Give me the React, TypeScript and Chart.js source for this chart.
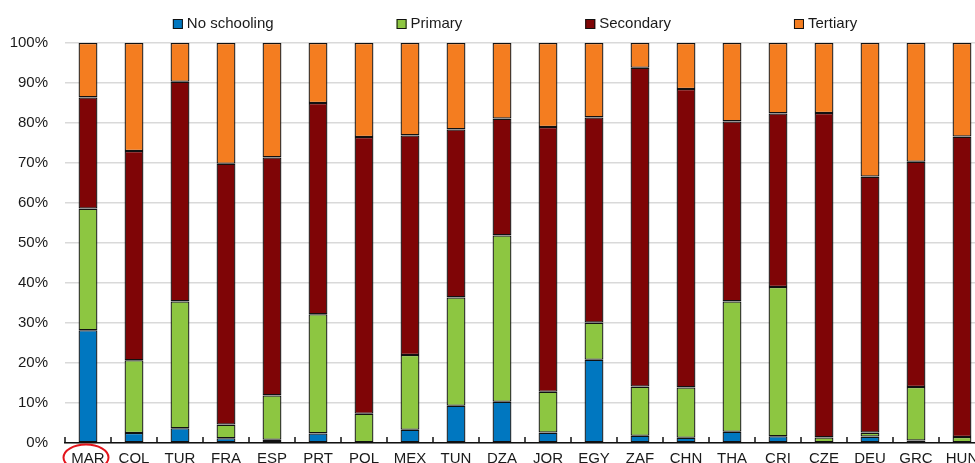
import React, { useEffect, useRef } from "react";
import { Chart, registerables } from "chart.js";

Chart.register(...registerables);

const categories = ["MAR", "COL", "TUR", "FRA", "ESP", "PRT", "POL", "MEX", "TUN", "DZA", "JOR", "EGY", "ZAF", "CHN", "THA", "CRI", "CZE", "DEU", "GRC", "HUN"];
const noSchooling = [28.2, 2.5, 3.7, 1.2, 0.8, 2.4, 0, 3.3, 9.3, 10.3, 2.6, 20.8, 1.8, 1.3, 2.8, 1.7, 0, 1.6, 0.6, 0];
const primary = [30.4, 18.2, 31.7, 3.4, 11.1, 29.8, 7.3, 18.7, 27.1, 41.6, 10.2, 9.3, 12.3, 12.6, 32.6, 37.3, 1.4, 1.0, 13.4, 1.5];
const secondary = [27.8, 52.3, 54.9, 65.2, 59.5, 52.8, 69.2, 54.9, 42.0, 29.2, 66.2, 51.3, 79.7, 74.6, 45.0, 43.4, 81.1, 64.0, 56.3, 75.1];
const tertiary = [13.6, 27.0, 9.7, 30.2, 28.6, 15.0, 23.5, 23.1, 21.6, 18.9, 21.0, 18.6, 6.2, 11.5, 19.6, 17.6, 17.5, 33.4, 29.7, 23.4];
const seriesLabels = ["No schooling", "Primary", "Secondary", "Tertiary"];
const seriesColors = ["#0077C0", "#8DC641", "#7F0506", "#F47D20"];
const yTicks = [0, 10, 20, 30, 40, 50, 60, 70, 80, 90, 100];
const highlighted = "MAR";

const FONT = "'Liberation Sans', Arial, sans-serif";
const TEXT = "#1a1a1a";

const legendPlugin = {
  id: "customLegend",
  afterDraw(chart: any) {
    const ctx = chart.ctx;
    ctx.save();
    ctx.font = `15px ${FONT}`;
    const box = 10;
    const gapBoxText = 4;
    const gap = 123;
    const items = chart.data.datasets.map((d: any) => ({
      label: d.label,
      color: d.backgroundColor,
      w: box + gapBoxText + ctx.measureText(d.label).width,
    }));
    const total = items.reduce((s: number, it: any) => s + it.w, 0) + gap * (items.length - 1);
    let x = chart.width / 2 - total / 2;
    const cy = 24;
    items.forEach((it: any) => {
      ctx.fillStyle = it.color;
      ctx.fillRect(x, cy - box / 2, box, box);
      ctx.strokeStyle = "#111";
      ctx.lineWidth = 1;
      ctx.strokeRect(x + 0.5, cy - box / 2 + 0.5, box - 1, box - 1);
      ctx.fillStyle = TEXT;
      ctx.textBaseline = "middle";
      ctx.textAlign = "left";
      ctx.fillText(it.label, x + box + gapBoxText, cy);
      x += it.w + gap;
    });
    ctx.restore();
  },
};

const ticksPlugin = {
  id: "catTicks",
  afterDatasetsDraw(chart: any) {
    const ctx = chart.ctx;
    const xs = chart.scales.x;
    const n = chart.data.labels.length;
    const half = (xs.getPixelForValue(1) - xs.getPixelForValue(0)) / 2;
    const bottom = chart.chartArea.bottom;
    ctx.save();
    ctx.strokeStyle = "#111";
    ctx.lineWidth = 1.5;
    for (let i = 0; i <= n; i++) {
      const x = Math.round(xs.getPixelForValue(Math.min(i, n - 1)) + (i === n ? half : -half));
      ctx.beginPath();
      ctx.moveTo(x, bottom);
      ctx.lineTo(x, bottom - 6);
      ctx.stroke();
    }
    const idx = chart.data.labels.indexOf(highlighted);
    if (idx >= 0) {
      const cx = xs.getPixelForValue(idx) - 2;
      ctx.strokeStyle = "#E3141B";
      ctx.lineWidth = 2;
      ctx.beginPath();
      ctx.ellipse(cx, bottom + 14.5, 22.5, 13, 0, 0, Math.PI * 2);
      ctx.stroke();
    }
    ctx.restore();
  },
};

export default function App() {
  const ref = useRef<HTMLCanvasElement>(null);
  useEffect(() => {
    if (!ref.current) return;
    const series = [noSchooling, primary, secondary, tertiary];
    const chart = new Chart(ref.current, {
      type: "bar",
      data: {
        labels: categories,
        datasets: series.map((data, i) => ({
          label: seriesLabels[i],
          data,
          backgroundColor: seriesColors[i],
          borderColor: "#111",
          borderWidth: 1.3,
          borderSkipped: false,
          categoryPercentage: 1,
          barPercentage: 0.41,
        })),
      },
      options: {
        responsive: false,
        animation: false,
        devicePixelRatio: 1,
        layout: { padding: { top: 43, right: 45, left: 0, bottom: 0 } },
        plugins: { legend: { display: false }, tooltip: { enabled: false } },
        scales: {
          x: {
            stacked: true,
            grid: { display: false, drawTicks: false },
            border: { display: true, color: "#111", width: 1.5 },
            ticks: { color: TEXT, font: { family: FONT, size: 15 }, padding: 7, maxRotation: 0, autoSkip: false },
            afterFit: (s: any) => { s.height = 37; },
          },
          y: {
            stacked: true,
            min: 0,
            max: 100,
            afterBuildTicks: (s: any) => { s.ticks = yTicks.map((v) => ({ value: v })); },
            grid: { color: "#d9d9d9", lineWidth: 1.5, drawTicks: false },
            border: { display: false },
            ticks: { color: TEXT, font: { family: FONT, size: 15 }, padding: 17, callback: (v: any) => `${v}%` },
            afterFit: (s: any) => { s.width = 65; },
          },
        },
      },
      plugins: [legendPlugin, ticksPlugin],
    });
    return () => chart.destroy();
  }, []);
  return (
    <div style={{ position: "fixed", left: 0, top: 0, width: 975, height: 463, overflow: "hidden", background: "#fff" }}>
      <canvas ref={ref} width={1030} height={480} style={{ display: "block", width: 1030, height: 480 }} />
    </div>
  );
}
